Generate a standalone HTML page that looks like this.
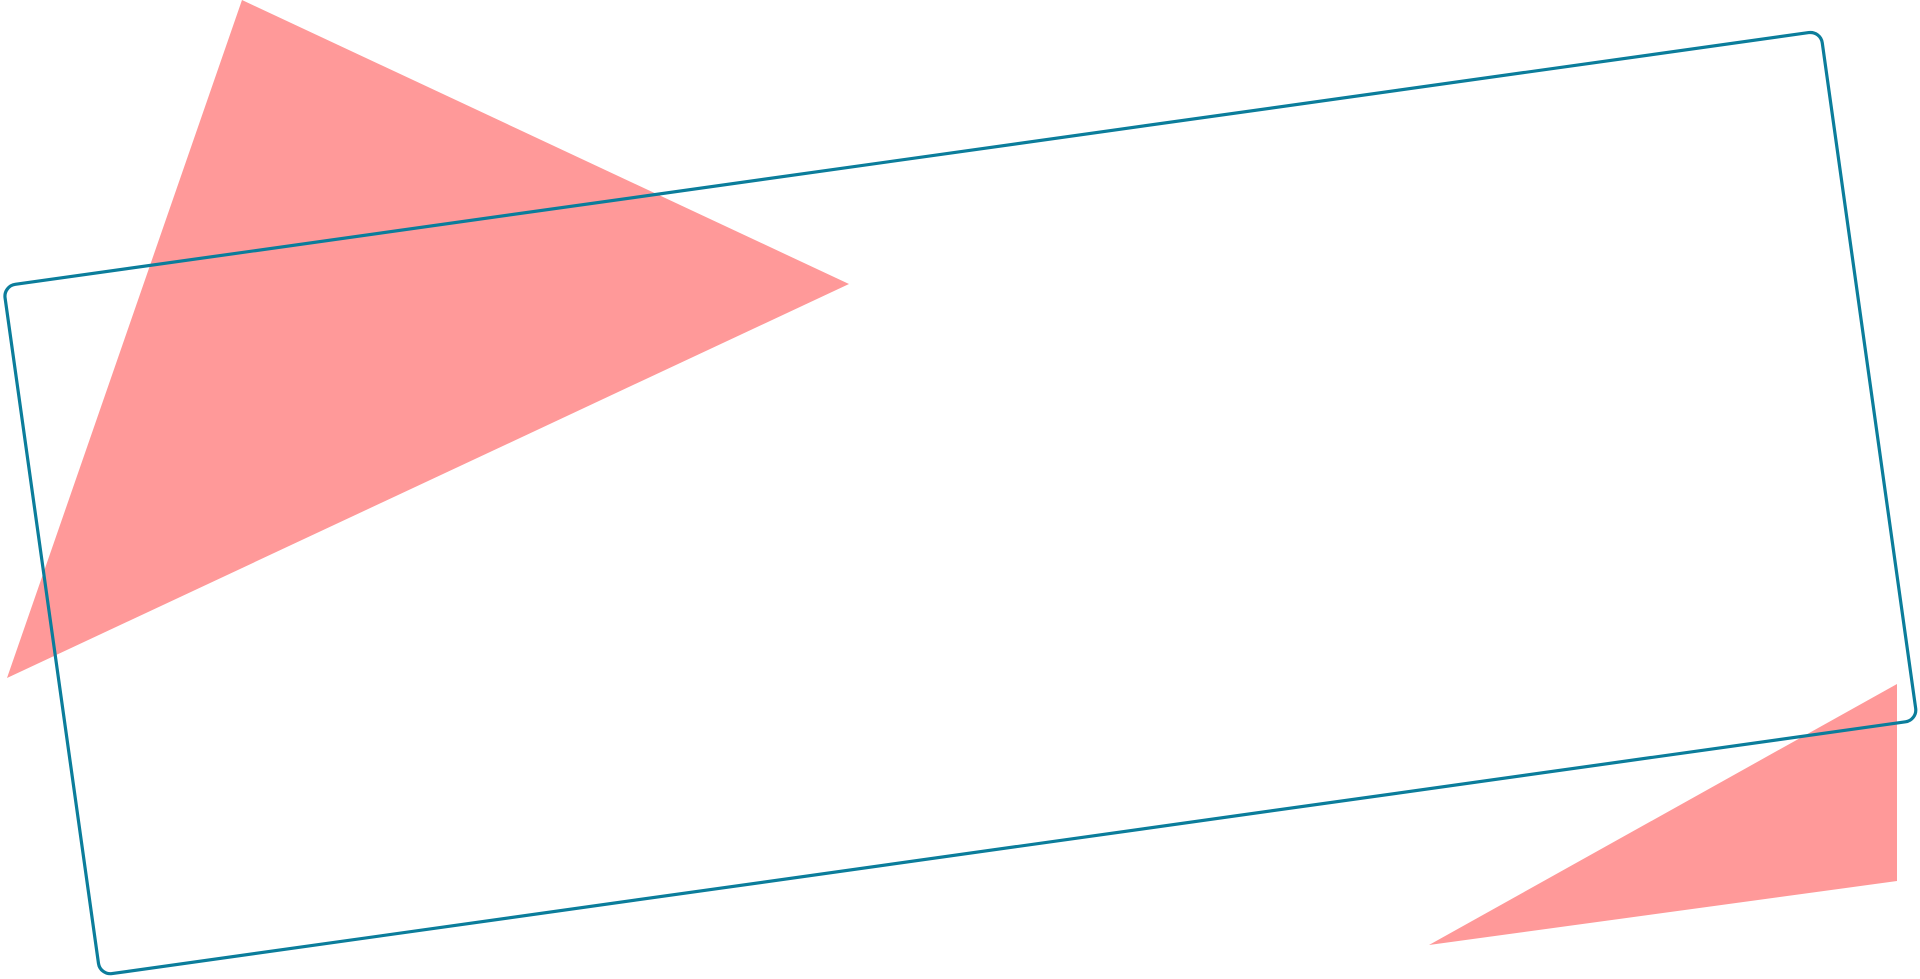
<!DOCTYPE html>
<html><head><meta charset="utf-8"><style>
html,body{margin:0;padding:0;background:#fff;width:1920px;height:979px;overflow:hidden}
svg{display:block}
</style></head><body>
<svg width="1920" height="979" viewBox="0 0 1920 979" xmlns="http://www.w3.org/2000/svg">
<polygon points="242,0 849,284 7,678" fill="#ff9999"/>
<polygon points="1897,684 1897,881 1429,945" fill="#ff9999"/>
<g transform="translate(3.4,286) rotate(-7.99)">
<rect x="0" y="0" width="1835" height="696" rx="12" ry="12" fill="none" stroke="#0b7d9b" stroke-width="3.2"/>
</g>
</svg>
</body></html>
